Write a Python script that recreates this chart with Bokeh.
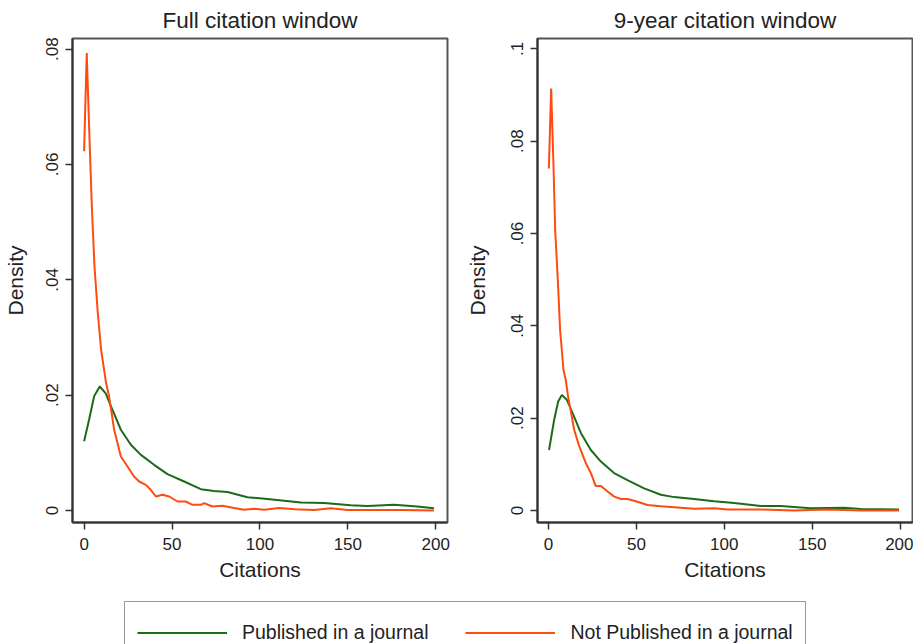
from bokeh.plotting import figure
from bokeh.layouts import column, row
from bokeh.models import Range1d, FixedTicker, Legend, LegendItem
from bokeh.embed import file_html
from bokeh.resources import INLINE

# ---------------- data ----------------
series_names = ["Published in a journal", "Not Published in a journal"]
panel_titles = ["Full citation window", "9-year citation window"]
x_label = "Citations"
y_label = "Density"

x_ticks = [0, 50, 100, 150, 200]
x_tick_labels = ["0", "50", "100", "150", "200"]
y_ticks_full = [0, 0.02, 0.04, 0.06, 0.08]
y_tick_labels_full = ["0", ".02", ".04", ".06", ".08"]
y_ticks_nine = [0, 0.02, 0.04, 0.06, 0.08, 0.1]
y_tick_labels_nine = ["0", ".02", ".04", ".06", ".08", ".1"]

full_x_pub = [0, 2.8, 5.7, 8.9, 12.3, 16.2, 20.9, 26.6, 32.3, 39.8, 47.4, 56.9, 66.4, 73.9,
              81.6, 92.9, 104.3, 113.8, 123.3, 136.5, 151.7, 161.2, 176.3, 189.6, 199]
full_y_pub = [0.0120, 0.0157, 0.0198, 0.0215, 0.0203, 0.0174, 0.0140, 0.0114, 0.00965, 0.00792,
              0.0063, 0.00503, 0.0037, 0.0034, 0.0032, 0.0023, 0.0020, 0.0017, 0.0014, 0.0013,
              0.0009, 0.0008, 0.00098, 0.0007, 0.0004]

full_x_not = [0, 1.5, 3.1, 4.4, 5.9, 7.8, 9.7, 12.5, 14.2, 17.1, 20.9, 24.7, 28.4, 31.3, 35.1,
              37.9, 40.8, 44.6, 48.4, 53.1, 57.8, 61.7, 66.4, 68.3, 73, 78.7, 85.3, 91, 96.7,
              102.4, 110.9, 120, 130.8, 140.3, 150, 161.2, 180.2, 199]
full_y_not = [0.0623, 0.0793, 0.0642, 0.0527, 0.0423, 0.0342, 0.0278, 0.0221, 0.0198, 0.0140,
              0.00936, 0.00762, 0.00589, 0.00503, 0.00445, 0.00359, 0.00243, 0.00272, 0.00243,
              0.00156, 0.00156, 0.00099, 0.00099, 0.00128, 0.00069, 0.00081, 0.00042, 0.00012,
              0.0003, 0.00012, 0.00042, 0.0002, 0.0001, 0.0004, 0.0001, 0.0001, 0.0001, 0.0]

nine_x_pub = [0.3, 3.2, 5.5, 7.6, 10.4, 13.7, 18.4, 24.1, 29.8, 37.3, 44.9, 54.4, 63.9, 71.5,
              82.8, 94.2, 105.6, 120.8, 132.2, 149.2, 168.2, 177.6, 199.4]
nine_y_pub = [0.0131, 0.0196, 0.0236, 0.0250, 0.0240, 0.0211, 0.0168, 0.0131, 0.0106, 0.0081,
              0.0066, 0.0048, 0.0034, 0.0029, 0.0025, 0.0020, 0.0016, 0.0010, 0.0010, 0.0005,
              0.0006, 0.0003, 0.0002]

nine_x_not = [0.2, 1.5, 2.8, 3.8, 5.3, 6.6, 8.5, 9.8, 11.0, 12.7, 14.6, 17.5, 21.2, 24.1, 26.9,
              29.8, 33.6, 37.4, 41.2, 44.9, 49.7, 56.3, 63.9, 71.5, 82.8, 94.2, 101.8, 120.8,
              139.7, 158.7, 177.6, 199.4]
nine_y_not = [0.0741, 0.0914, 0.0752, 0.0608, 0.0499, 0.0391, 0.0305, 0.0283, 0.0250, 0.0215,
              0.0175, 0.0139, 0.0103, 0.0081, 0.0053, 0.0053, 0.0041, 0.0030, 0.0025, 0.0025,
              0.0020, 0.0012, 0.0009, 0.0007, 0.0004, 0.0005, 0.0002, 0.0002, 0.0, 0.0002,
              0.0, 0.0]

# ---------------- style ----------------
GREEN = "#1b6b1b"
ORANGE = "#ff4a10"
FONT = "Liberation Sans"
TXT = "#222222"


def make_panel(title, xr, yr, yticks, ylabels, width, left, right, ylab_standoff, series):
    p = figure(width=width, height=590, x_range=Range1d(*xr), y_range=Range1d(*yr),
               output_backend="svg", toolbar_location=None,
               min_border_left=left, min_border_right=right,
               min_border_top=38, min_border_bottom=68)
    p.title.text = title
    p.title.align = "center"
    p.title.text_font = FONT
    p.title.text_font_size = "22.5px"
    p.title.text_font_style = "normal"
    p.title.text_color = TXT
    p.title.standoff = 11
    p.xgrid.visible = False
    p.ygrid.visible = False
    p.outline_line_color = "#555555"
    p.outline_line_width = 2
    p.background_fill_color = "white"
    p.border_fill_color = "white"

    for ax in (p.xaxis[0], p.yaxis[0]):
        ax.axis_line_color = "#333333"
        ax.axis_line_width = 2
        ax.major_tick_line_color = "#333333"
        ax.major_tick_line_width = 1.5
        ax.major_tick_out = 7
        ax.major_tick_in = 0
        ax.minor_tick_line_color = None
        ax.major_label_text_font = FONT
        ax.major_label_text_font_size = "17px"
        ax.major_label_text_color = TXT
        ax.axis_label_text_font = FONT
        ax.axis_label_text_font_size = "21px"
        ax.axis_label_text_font_style = "normal"
        ax.axis_label_text_color = TXT

    p.xaxis.ticker = FixedTicker(ticks=x_ticks)
    p.xaxis.major_label_overrides = dict(zip(x_ticks, x_tick_labels))
    p.xaxis.axis_label = x_label
    p.xaxis.major_label_standoff = 8
    p.xaxis.axis_label_standoff = 5

    p.yaxis.ticker = FixedTicker(ticks=yticks)
    p.yaxis.major_label_overrides = dict(zip(yticks, ylabels))
    p.yaxis.major_label_orientation = "parallel"
    p.yaxis.axis_label = y_label
    p.yaxis.major_label_standoff = 7
    p.yaxis.axis_label_standoff = ylab_standoff

    (xp, yp), (xn, yn) = series
    p.line(xp, yp, line_color=GREEN, line_width=2)
    p.line(xn, yn, line_color=ORANGE, line_width=2)
    return p


p1 = make_panel(panel_titles[0], (-6.6, 206.7), (-0.00208, 0.08184),
                y_ticks_full, y_tick_labels_full, 460, 72, 13, 17,
                [(full_x_pub, full_y_pub), (full_x_not, full_y_not)])
p2 = make_panel(panel_titles[1], (-6.26, 207.05), (-0.0026, 0.10225),
                y_ticks_nine, y_tick_labels_nine, 453, 77, 1, 20,
                [(nine_x_pub, nine_y_pub), (nine_x_not, nine_y_not)])

# ---------------- legend strip ----------------
pl = figure(width=913, height=54, x_range=Range1d(0, 1), y_range=Range1d(0, 1),
            x_axis_type=None, y_axis_type=None, output_backend="svg",
            toolbar_location=None, min_border=0)
pl.outline_line_color = None
pl.background_fill_color = "white"
pl.border_fill_color = "white"
# hidden copies of the series, used only for their legend samples
r_pub = pl.line(full_x_pub, full_y_pub, line_color=GREEN, line_width=2, visible=False)
r_not = pl.line(full_x_not, full_y_not, line_color=ORANGE, line_width=2, visible=False)
legend = Legend(items=[LegendItem(label=series_names[0], renderers=[r_pub]),
                       LegendItem(label=series_names[1], renderers=[r_not])],
                orientation="horizontal", location=(124, -20),
                glyph_width=90, glyph_height=37, label_height=37,
                label_standoff=15, spacing=37, padding=12, margin=0,
                border_line_color="#333333", border_line_width=1.5,
                background_fill_color="white", background_fill_alpha=1,
                label_text_font=FONT, label_text_font_size="19.5px",
                label_text_color=TXT, click_policy="none")
pl.add_layout(legend)

layout = column(row(p1, p2), pl)

open("out.html", "w").write(file_html(layout, INLINE))
